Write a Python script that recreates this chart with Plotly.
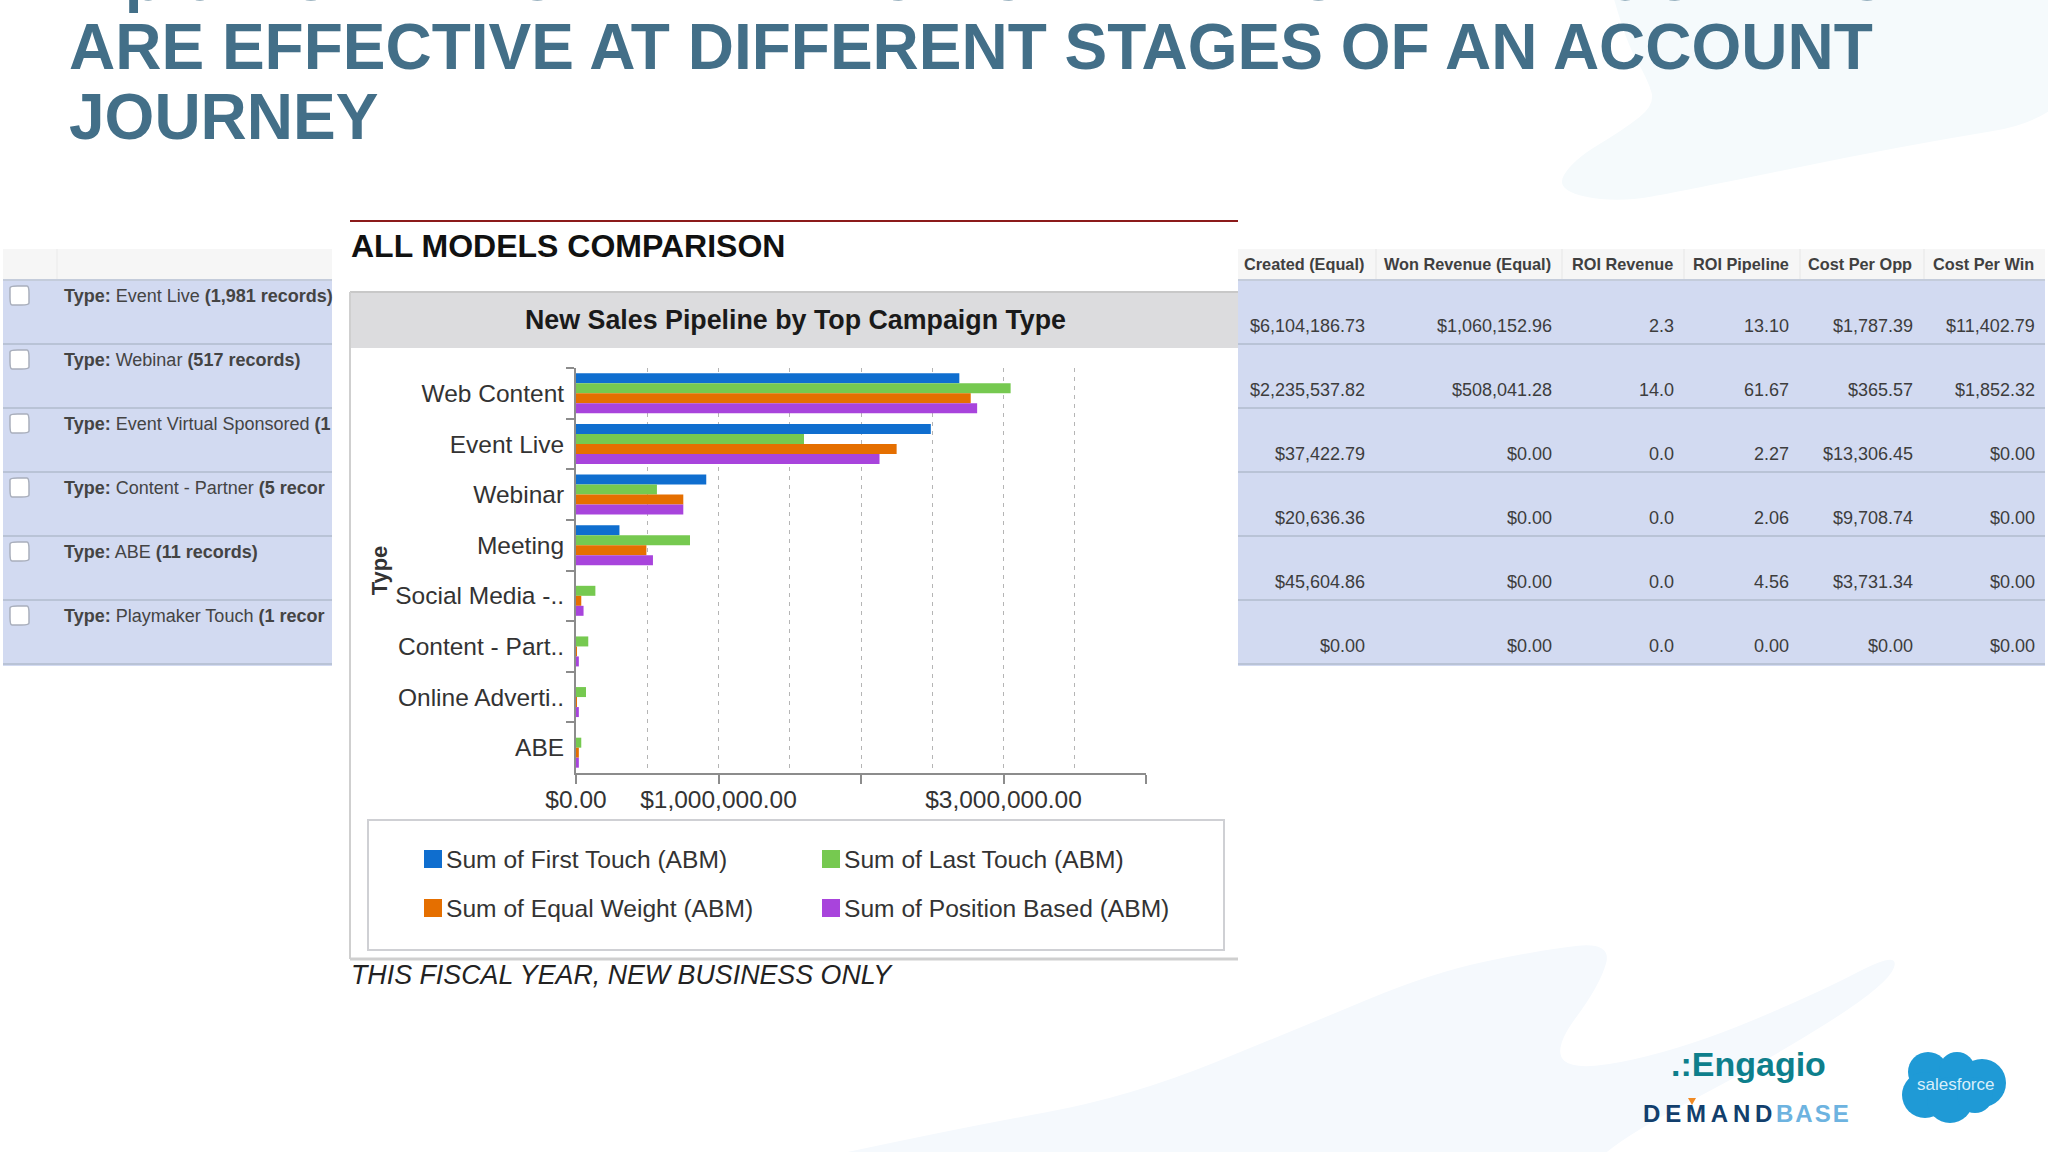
import plotly.graph_objects as go

# chart data
types = ["Web Content", "Event Live", "Webinar", "Meeting", "Social Media -..",
         "Content - Part..", "Online Adverti..", "ABE"]
first_touch = [2690000, 2490000, 914000, 305000, 0, 0, 0, 0]
last_touch = [3050000, 1600000, 568000, 800000, 136000, 86000, 70000, 37000]
equal_weight = [2770000, 2250000, 753000, 494000, 37000, 6000, 6000, 20000]
position_based = [2815000, 2130000, 753000, 540000, 53000, 20000, 20000, 20000]
series_names = ["Sum of First Touch (ABM)", "Sum of Last Touch (ABM)",
                "Sum of Equal Weight (ABM)", "Sum of Position Based (ABM)"]
series_colors = ["#0f6ecf", "#76c950", "#e56f00", "#a844dc"]
x_ticks = [0, 1000000, 2000000, 3000000, 4000000]
x_labels = ["$0.00", "$1,000,000.00", "", "$3,000,000.00", ""]
x_grid = [500000, 1000000, 1500000, 2000000, 2500000, 3000000, 3500000]

# table data
left_rows = [
    "<b>Type:</b> Event Live <b>(1,981 records)</b>",
    "<b>Type:</b> Webinar <b>(517 records)</b>",
    "<b>Type:</b> Event Virtual Sponsored <b>(1</b>",
    "<b>Type:</b> Content - Partner <b>(5 recor</b>",
    "<b>Type:</b> ABE <b>(11 records)</b>",
    "<b>Type:</b> Playmaker Touch <b>(1 recor</b>",
]
headers = ["Created (Equal)", "Won Revenue (Equal)", "ROI Revenue", "ROI Pipeline", "Cost Per Opp", "Cost Per Win"]
created = ["$6,104,186.73", "$2,235,537.82", "$37,422.79", "$20,636.36", "$45,604.86", "$0.00"]
won_revenue = ["$1,060,152.96", "$508,041.28", "$0.00", "$0.00", "$0.00", "$0.00"]
roi_revenue = ["2.3", "14.0", "0.0", "0.0", "0.0", "0.0"]
roi_pipeline = ["13.10", "61.67", "2.27", "2.06", "4.56", "0.00"]
cost_opp = ["$1,787.39", "$365.57", "$13,306.45", "$9,708.74", "$3,731.34", "$0.00"]
cost_win = ["$11,402.79", "$1,852.32", "$0.00", "$0.00", "$0.00", "$0.00"]

title_lines = ["Tip 6 \u2013 UNDERSTAND WHICH CHANNELS AND PROGRAMS",
               "ARE EFFECTIVE AT DIFFERENT STAGES OF AN ACCOUNT",
               "JOURNEY"]

W, H = 2048, 1152
FONT = "Liberation Sans"


def X(px):
    return px / W


def Y(py):
    return 1 - py / H


shapes = []
annotations = []


def rect(x0, y0, x1, y1, fill, line=None, width=0):
    shapes.append(dict(type="rect", xref="paper", yref="paper", layer="below",
                       x0=X(x0), x1=X(x1), y0=Y(y1), y1=Y(y0), fillcolor=fill,
                       line=dict(color=line or fill, width=width)))


def hline(x0, x1, y, color, width=2):
    shapes.append(dict(type="line", xref="paper", yref="paper", layer="below",
                       x0=X(x0), x1=X(x1), y0=Y(y), y1=Y(y), line=dict(color=color, width=width)))


def vline(x, y0, y1, color, width=2):
    shapes.append(dict(type="line", xref="paper", yref="paper", layer="below",
                       x0=X(x), x1=X(x), y0=Y(y0), y1=Y(y1), line=dict(color=color, width=width)))


def blob(points, fill, smooth=True, line=None, width=0):
    # smooth outline: each given point is a control point, curve runs through the midpoints
    pts = [(X(a), Y(b)) for a, b in points]
    if smooth:
        mids = [((pts[i][0] + pts[(i + 1) % len(pts)][0]) / 2, (pts[i][1] + pts[(i + 1) % len(pts)][1]) / 2)
                for i in range(len(pts))]
        d = f"M {mids[-1][0]:.5f},{mids[-1][1]:.5f}"
        for i, p in enumerate(pts):
            d += f" Q {p[0]:.5f},{p[1]:.5f} {mids[i][0]:.5f},{mids[i][1]:.5f}"
        d += " Z"
    else:
        d = "M " + " L ".join(f"{a:.5f},{b:.5f}" for a, b in pts) + " Z"
    shapes.append(dict(type="path", xref="paper", yref="paper", layer="below", path=d,
                       fillcolor=fill, line=dict(color=line or fill, width=width)))


def text(x, y, s, size, color="#3d3d3d", anchor="left", **font_kw):
    annotations.append(dict(x=X(x), y=Y(y), xref="paper", yref="paper", text=s, showarrow=False,
                            xanchor=anchor, yanchor="middle", borderpad=0,
                            font=dict(family=FONT, size=size, color=color, **font_kw)))


# pale background swooshes
blob([(1598, -60), (1625, 40), (1648, 80), (1655, 105), (1623, 130), (1573, 160), (1555, 190),
      (1615, 203), (1689, 190), (1896, 147), (2090, 115), (2090, -60)], "#f5fafc")
blob([(740, 1175), (960, 1128), (1130, 1097), (1302, 1027), (1431, 973), (1540, 950), (1612, 942),
      (1600, 985), (1552, 1050), (1577, 1072), (1689, 1047), (1818, 993), (1900, 950),
      (1888, 985), (1760, 1065), (1629, 1133), (1580, 1175)], "#f5f9fd")

# left table
rect(3, 249, 332, 279, "#f6f6f6")
vline(57, 249, 279, "#eaeaea", 1)
rect(3, 279, 332, 666, "#d2daf1")
# right table
rect(1238, 249, 2045, 279, "#f6f6f6")
rect(1238, 279, 2045, 666, "#d2daf1")
for col_x in [1376, 1562, 1684, 1800, 1924]:
    vline(col_x, 249, 279, "#e6e6e6", 1)
for row_y in [344, 408, 472, 536, 600, 664]:
    hline(3, 332, row_y, "#b9c3d6", 2)
    hline(1238, 2045, row_y, "#b9c3d6", 2)
hline(3, 332, 280, "#c4ccdb", 2)
hline(1238, 2045, 280, "#c4ccdb", 2)

row_centers = [296, 360, 424, 488, 552, 616]
for cy, label in zip(row_centers, left_rows):
    x0, x1, y0, y1 = 11, 28, cy - 9, cy + 8
    blob([(x0 - 1, y0 - 1), (x1 - 3, y0 - 1), (x1 + 1, y0 - 1), (x1 + 1, y1 - 3), (x1 + 1, y1 + 1),
          (x0 + 3, y1 + 1), (x0 - 1, y1 + 1), (x0 - 1, y0 + 3)], "#ffffff", line="#a9afbc", width=1.5)
    text(63, cy, label, 18, "#444444")

col_heads = [1243, 1383, 1571, 1692, 1807, 1932]
col_right = [1366, 1553, 1675, 1790, 1914, 2036]
columns = [created, won_revenue, roi_revenue, roi_pipeline, cost_opp, cost_win]
for hx, rx, head, values in zip(col_heads, col_right, headers, columns):
    text(hx, 264, f"<b>{head}</b>", 16.3, "#404040")
    for cy, val in zip(row_centers, values):
        text(rx, cy + 30, val, 18, "#3d3d3d", anchor="right")

# chart panel
rect(350, 220, 1238, 959, "#ffffff")
hline(350, 1238, 221, "#8b1a1a", 2)
text(350, 246, "<b>ALL MODELS COMPARISON</b>", 32, "#111111")
rect(350, 292, 1238, 348, "#dcdcde")
hline(350, 1238, 292, "#c8c8c8", 2)
vline(350, 292, 959, "#cfcfcf", 2)
hline(350, 1238, 959, "#cfcfcf", 3)
text(795, 320, "<b>New Sales Pipeline by Top Campaign Type</b>", 26.8, "#1a1a1a", anchor="center")
text(350, 975, "THIS FISCAL YEAR, NEW BUSINESS ONLY", 26.8, "#222222", style="italic")

# legend box
rect(368, 820, 1224, 950, "#ffffff", "#cfd0d4", 2)
legend_pos = [(424, 859), (822, 859), (424, 908), (822, 908)]
for (lx, ly), name, color in zip(legend_pos, series_names, series_colors):
    rect(lx, ly - 9, lx + 18, ly + 9, color)
    text(lx + 21, ly, name, 24.6, "#333333")

# title
for center_y, line in zip([-22, 47, 117], title_lines):
    text(68, center_y, f"<b>{line}</b>", 64, "#436f88")

# logos
text(1670, 1064, ".:Engagio", 34, "#0e7f8c", anchor="left", weight=600)
text(1642, 1113, "<b>D\u2009E\u2009M\u2009A\u2009N\u2009D</b>", 24, "#123f6d")
text(1775, 1113, "<b>B\u200aA\u200aS\u200aE</b>", 24, "#6db3e0")
blob([(1688, 1098), (1696, 1098), (1692, 1105)], "#f08a24", smooth=False)
cloud = [(1928, 1072, 20), (1957, 1070, 18), (1982, 1083, 24), (1925, 1095, 23), (1950, 1100, 23), (1975, 1095, 18)]
for cx, cy, r in cloud:
    shapes.append(dict(type="circle", xref="paper", yref="paper", layer="below",
                       x0=X(cx - r), x1=X(cx + r), y0=Y(cy + r), y1=Y(cy - r),
                       fillcolor="#1f9ad6", line=dict(width=0)))
text(1955, 1084, "salesforce", 17, "#d8effa", anchor="center")

fig = go.Figure()
for name, color, values in zip(series_names, series_colors,
                               [first_touch, last_touch, equal_weight, position_based]):
    fig.add_trace(go.Bar(y=types, x=values, name=name, orientation="h",
                         marker=dict(color=color, line=dict(width=0))))

fig.update_layout(
    width=W, height=H,
    margin=dict(l=0, r=0, t=0, b=0),
    paper_bgcolor="#ffffff",
    plot_bgcolor="rgba(0,0,0,0)",
    barmode="group",
    bargap=0.21,
    bargroupgap=0,
    showlegend=False,
    shapes=shapes,
    annotations=annotations,
    font=dict(family=FONT, color="#333333"),
)
fig.update_xaxes(
    automargin=False,
    domain=[X(576), X(1146)], range=[0, 4000000],
    tickmode="array", tickvals=x_ticks, ticktext=x_labels,
    ticks="outside", ticklen=9, tickwidth=2, tickcolor="#8c8c8c",
    ticklabelstandoff=-5,
    showline=True, linecolor="#8c8c8c", linewidth=2,
    showgrid=False, zeroline=False,
    tickfont=dict(size=24.5, color="#333333"),
    minor=dict(tickmode="array", tickvals=x_grid, showgrid=True, griddash="4px,5px",
               gridcolor="#b5b5b5", gridwidth=1, ticks=""),
)
fig.update_yaxes(
    automargin=False,
    domain=[Y(773), Y(368)], type="category", categoryorder="array", categoryarray=types,
    autorange="reversed", tickson="boundaries",
    ticks="outside", ticklen=8, tickwidth=2, tickcolor="#8c8c8c",
    ticklabelstandoff=5,
    showline=True, linecolor="#8c8c8c", linewidth=2,
    showgrid=False, zeroline=False,
    tickfont=dict(size=24.5, color="#333333"),
    title=dict(text="<b>Type</b>", font=dict(size=22, color="#333333"), standoff=2),
)

fig.write_html("out.html", config={"displayModeBar": False},
               post_script="document.body.style.margin='0';")
